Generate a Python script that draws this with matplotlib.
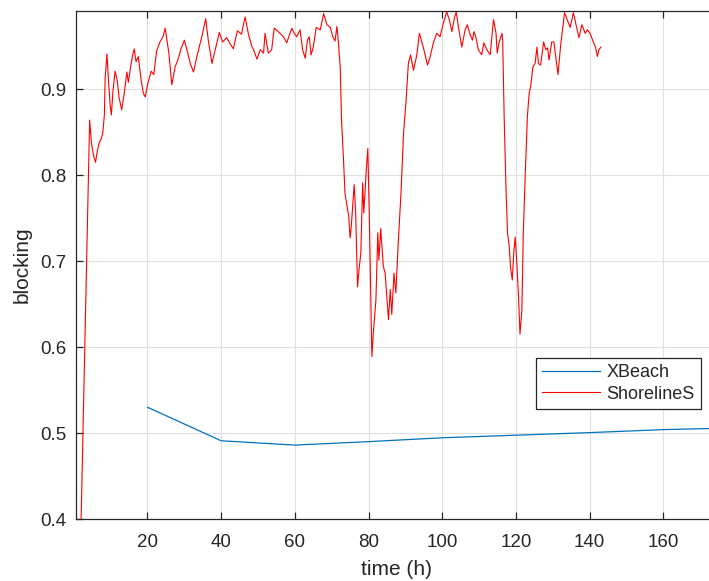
import matplotlib
matplotlib.use("Agg")
import matplotlib.pyplot as plt

# ShorelineS blocking time series (time in hours)
shoreline_t = [0.0, 4.3, 4.8, 5.4, 5.9, 6.3, 6.9, 7.4, 7.9, 8.3, 8.5, 9.0, 9.4, 9.9, 10.2,
               10.6, 11.2, 11.8, 12.3, 13.0, 13.7, 14.4, 14.8, 15.5, 15.9, 16.4, 16.9, 17.5,
               18.3, 18.9, 19.4, 20.1, 21.0, 21.7, 22.5, 23.4, 24.3, 24.8, 25.8, 26.6, 27.5,
               28.4, 29.0, 30.0, 30.7, 31.6, 32.5, 33.4, 34.8, 35.8, 36.5, 37.5, 38.4, 39.5,
               40.4, 41.5, 42.4, 43.3, 44.4, 45.5, 46.5, 47.4, 48.3, 48.8, 49.7, 50.6, 51.5,
               51.9, 52.8, 53.7, 54.4, 55.5, 56.9, 57.8, 58.5, 59.2, 59.8, 60.5, 61.4, 62.1,
               62.8, 63.4, 63.9, 64.4, 65.0, 65.8, 66.9, 67.8, 68.7, 69.6, 70.3, 70.9, 71.4,
               71.8, 72.3, 72.7, 73.2, 73.6, 74.6, 75.0, 75.3, 76.1, 76.5, 77.0, 77.5, 77.9,
               78.4, 78.7, 79.5, 79.8, 80.2, 80.9, 81.3, 82.0, 82.5, 82.8, 83.3, 84.0, 84.5,
               85.0, 85.4, 85.9, 86.3, 86.9, 87.4, 88.1, 88.8, 89.5, 90.2, 90.8, 91.4, 92.2,
               93.1, 93.8, 94.9, 96.0, 96.6, 97.6, 98.5, 99.4, 100.3, 101.2, 101.9, 102.6,
               103.3, 103.8, 104.4, 105.3, 106.2, 106.8, 107.6, 108.2, 108.6, 109.1, 109.8,
               110.7, 111.3, 112.1, 113.0, 113.9, 114.6, 114.9, 115.4, 116.2, 116.4, 116.8,
               117.3, 117.7, 118.2, 118.5, 119.0, 119.4, 119.8, 120.2, 120.7, 121.1, 121.6,
               122.0, 122.5, 123.1, 123.6, 124.0, 124.6, 125.2, 125.7, 126.1, 126.7, 127.5,
               128.1, 128.6, 129.0, 129.7, 130.3, 131.4, 132.2, 133.2, 133.9, 134.7, 135.6,
               136.3, 137.1, 137.9, 138.8, 139.4, 140.1, 141.0, 141.6, 142.1, 142.5, 143.1]
shoreline_blocking = [0.0, 0.864, 0.837, 0.822, 0.815, 0.826, 0.838, 0.842, 0.850, 0.870,
                      0.912, 0.941, 0.911, 0.880, 0.870, 0.896, 0.921, 0.910, 0.890, 0.876,
                      0.896, 0.920, 0.908, 0.928, 0.938, 0.947, 0.932, 0.938, 0.910, 0.895,
                      0.891, 0.907, 0.921, 0.917, 0.945, 0.955, 0.962, 0.971, 0.942, 0.905,
                      0.926, 0.936, 0.946, 0.957, 0.946, 0.930, 0.920, 0.938, 0.962, 0.982,
                      0.957, 0.930, 0.946, 0.966, 0.955, 0.960, 0.953, 0.947, 0.968, 0.964,
                      0.984, 0.964, 0.950, 0.946, 0.935, 0.946, 0.942, 0.965, 0.942, 0.946,
                      0.971, 0.967, 0.961, 0.954, 0.963, 0.971, 0.965, 0.961, 0.969, 0.946,
                      0.936, 0.957, 0.961, 0.940, 0.949, 0.972, 0.969, 0.988, 0.975, 0.972,
                      0.961, 0.956, 0.973, 0.955, 0.926, 0.860, 0.818, 0.779, 0.752, 0.727,
                      0.740, 0.789, 0.756, 0.670, 0.694, 0.709, 0.791, 0.756, 0.814, 0.831,
                      0.752, 0.589, 0.617, 0.655, 0.733, 0.701, 0.738, 0.694, 0.686, 0.655,
                      0.632, 0.667, 0.638, 0.686, 0.663, 0.725, 0.779, 0.849, 0.888, 0.930,
                      0.940, 0.922, 0.940, 0.965, 0.948, 0.928, 0.936, 0.954, 0.965, 0.961,
                      0.977, 0.990, 0.981, 0.967, 0.983, 0.990, 0.972, 0.949, 0.969, 0.975,
                      0.963, 0.957, 0.967, 0.961, 0.946, 0.940, 0.954, 0.946, 0.940, 0.981,
                      0.965, 0.942, 0.954, 0.965, 0.957, 0.868, 0.785, 0.733, 0.717, 0.694,
                      0.678, 0.709, 0.728, 0.701, 0.659, 0.615, 0.643, 0.733, 0.798, 0.868,
                      0.896, 0.903, 0.926, 0.930, 0.949, 0.930, 0.928, 0.955, 0.946, 0.948,
                      0.934, 0.955, 0.955, 0.917, 0.954, 0.989, 0.981, 0.972, 0.989, 0.975,
                      0.960, 0.975, 0.965, 0.969, 0.965, 0.955, 0.949, 0.938, 0.946, 0.949]

# XBeach blocking sampled every 20 h
xbeach_t = [20, 40, 60, 80, 100, 120, 140, 160, 180]
xbeach_blocking = [0.530, 0.491, 0.486, 0.490, 0.4945, 0.4975, 0.5005, 0.504, 0.506]

x_ticks = [20, 40, 60, 80, 100, 120, 140, 160]
y_ticks = [0.4, 0.5, 0.6, 0.7, 0.8, 0.9]
y_tick_labels = ["0.4", "0.5", "0.6", "0.7", "0.8", "0.9"]

plt.rcParams["font.family"] = ["Liberation Sans", "DejaVu Sans"]
axis_color = "#262626"

fig = plt.figure(figsize=(7.09, 5.81), dpi=100)
# the axes run slightly past the right edge of the canvas
ax = fig.add_axes([0.1072, 0.1067, 0.9027, 0.8744])

ax.plot(xbeach_t, xbeach_blocking, color="#0072BD", lw=0.9, label="XBeach")
ax.plot(shoreline_t, shoreline_blocking, color="#ff0000", lw=0.8, label="ShorelineS")

ax.set_xlim(0.6, 174.3)
ax.set_ylim(0.4, 0.991)
ax.set_xticks(x_ticks)
ax.set_yticks(y_ticks)
ax.set_yticklabels(y_tick_labels)

ax.grid(True, color="#e0e0e0", lw=0.8)
ax.set_axisbelow(True)

for side in ("left", "right", "top", "bottom"):
    ax.spines[side].set_color(axis_color)
    ax.spines[side].set_linewidth(0.9)

ax.tick_params(direction="in", length=5, width=0.9, colors=axis_color,
               labelsize=13.5, top=True, right=True)
ax.tick_params(axis="x", pad=11)
ax.tick_params(axis="y", pad=7)

ax.set_xlabel("time (h)", fontsize=15, color=axis_color, labelpad=6)
ax.set_ylabel("blocking", fontsize=15, color=axis_color, labelpad=6)

leg = ax.legend(loc="upper right", bbox_to_anchor=(0.9766, 0.3175), fontsize=13,
                frameon=True, fancybox=False, edgecolor=axis_color, framealpha=1,
                handlelength=3.2, handletextpad=0.35, labelspacing=0.25,
                borderpad=0.35, borderaxespad=0.0)
leg.get_frame().set_linewidth(0.9)
for txt in leg.get_texts():
    txt.set_color(axis_color)

fig.savefig("out.png", dpi=100)
